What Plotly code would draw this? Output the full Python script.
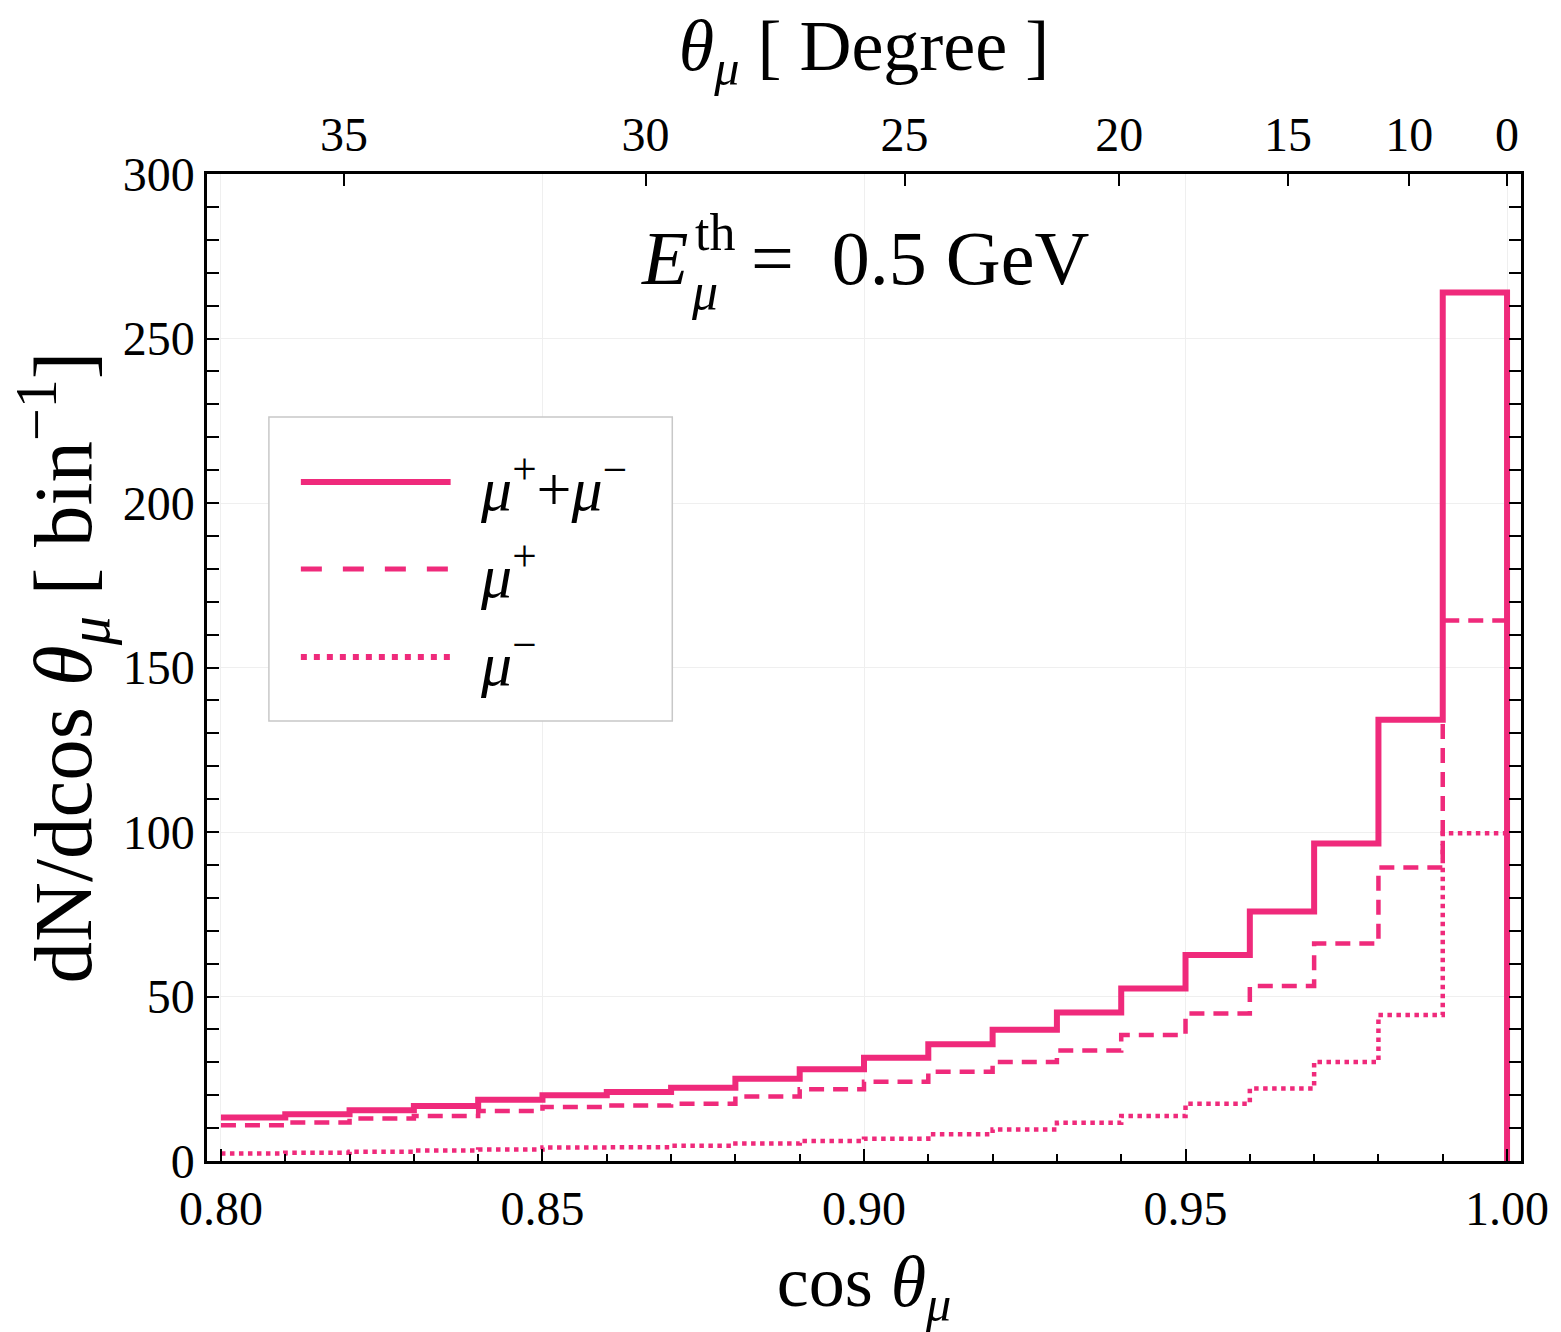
import numpy as np
import plotly.graph_objects as go

# cos(theta_mu) bin lower edges (bin width 0.01) and the upper end of the last bin
bin_lo = [0.80, 0.81, 0.82, 0.83, 0.84, 0.85, 0.86, 0.87, 0.88, 0.89,
          0.90, 0.91, 0.92, 0.93, 0.94, 0.95, 0.96, 0.97, 0.98, 0.99]
bin_hi_last = 1.00

# events per bin
n_total = [13.2, 14.2, 15.4, 16.7, 18.6, 20.0, 21.0, 22.3, 25.0, 27.9,
           31.4, 35.5, 39.9, 45.1, 52.4, 62.6, 75.8, 96.5, 134.1, 264.0]
n_plus = [10.9, 11.7, 12.9, 13.7, 15.2, 16.4, 16.9, 17.4, 19.6, 21.8,
          24.1, 27.1, 30.1, 33.6, 38.3, 44.8, 53.2, 66.1, 89.2, 164.3]
n_minus = [2.3, 2.5, 2.8, 3.2, 3.5, 4.1, 4.2, 4.6, 5.3, 6.1,
           6.8, 8.1, 9.6, 11.6, 13.7, 17.4, 22.0, 30.1, 44.4, 99.6]

# top axis: muon angle in degrees
deg_ticks = [35, 30, 25, 20, 15, 10, 0]

# bottom / left axis labels
x_major = [0.80, 0.85, 0.90, 0.95, 1.00]
y_major = [0, 50, 100, 150, 200, 250, 300]

PINK = "#EF2A7B"
FONT = "Liberation Serif"
X_RANGE = [0.79783, 1.00217]

DASH_PLOT = "15px,9px"
DOT_PLOT = "4.5px,4.5px"


def step_xy(values, drop_to_zero=False):
    xs = list(bin_lo) + [bin_hi_last]
    ys = list(values) + [values[-1]]
    if drop_to_zero:
        xs.append(bin_hi_last)
        ys.append(0)
    return xs, ys


fig = go.Figure()

xs, ys = step_xy(n_minus)
fig.add_trace(go.Scatter(x=xs, y=ys, mode="lines", line_shape="hv",
                         line=dict(color=PINK, width=4.5, dash=DOT_PLOT),
                         name="μ−", showlegend=False))
xs, ys = step_xy(n_plus)
fig.add_trace(go.Scatter(x=xs, y=ys, mode="lines", line_shape="hv",
                         line=dict(color=PINK, width=4.5, dash=DASH_PLOT),
                         name="μ+", showlegend=False))
xs, ys = step_xy(n_total, drop_to_zero=True)
fig.add_trace(go.Scatter(x=xs, y=ys, mode="lines", line_shape="hv",
                         line=dict(color=PINK, width=6),
                         name="μ+ + μ−", showlegend=False))

# carrier trace for the degree axis on top
tick_pos = [float(np.cos(np.radians(d))) for d in deg_ticks]
fig.add_trace(go.Scatter(x=tick_pos, y=[None] * len(tick_pos), xaxis="x2",
                         mode="lines", showlegend=False, hoverinfo="skip"))

# plot-area geometry in pixels
L, R, T, B = 207, 1523, 174, 1161
W, H = 1561, 1332


def px(x):
    return (x - L) / (R - L)


def py(y):
    return (B - y) / (B - T)


axis_common = dict(showline=True, linecolor="black", linewidth=2.5,
                   ticks="inside", ticklen=12, tickwidth=2, tickcolor="black",
                   zeroline=False, gridcolor="#efefef", gridwidth=1,
                   tickfont=dict(family=FONT, size=48, color="black"))

fig.update_layout(
    width=W, height=H,
    margin=dict(l=L, r=W - R, t=T, b=H - B),
    paper_bgcolor="white", plot_bgcolor="white",
    xaxis=dict(range=X_RANGE, tickvals=x_major,
               ticktext=[f"{v:.2f}" for v in x_major], mirror=True,
               ticklabelstandoff=4,
               minor=dict(tick0=0.80, dtick=0.01, ticks="inside", ticklen=7,
                          tickwidth=1.5, tickcolor="black", showgrid=False),
               title=dict(text="cos <i>θ</i><sub><i>μ</i></sub>", standoff=26,
                          font=dict(family=FONT, size=72, color="black")),
               **axis_common),
    yaxis=dict(range=[0, 300], tickvals=y_major, mirror="allticks",
               minor=dict(dtick=10, ticks="inside", ticklen=7, tickwidth=1.5,
                          tickcolor="black", showgrid=False),
               title=dict(text="dN/dcos <i>θ</i><sub><i>μ</i></sub> [ bin<sup>−1</sup>]",
                          standoff=4,
                          font=dict(family=FONT, size=83, color="black")),
               **axis_common),
    xaxis2=dict(overlaying="x", side="top", range=X_RANGE,
                tickvals=tick_pos, ticktext=[str(d) for d in deg_ticks],
                ticks="inside", ticklen=12, tickwidth=2, tickcolor="black",
                ticklabelstandoff=12,
                showline=False, showgrid=False, zeroline=False,
                tickfont=dict(family=FONT, size=48, color="black"),
                title=dict(text="<i>θ</i><sub><i>μ</i></sub> [ Degree ]", standoff=14,
                           font=dict(family=FONT, size=72, color="black"))),
)

# threshold label inside the frame: E, stacked th / mu, then the value
lbl_font = dict(family=FONT, size=76, color="black")
fig.add_annotation(xref="paper", yref="paper", x=px(640), y=py(258),
                   xanchor="left", yanchor="middle", showarrow=False,
                   text="<i>E</i>", font=lbl_font)
fig.add_annotation(xref="paper", yref="paper", x=px(694), y=py(232),
                   xanchor="left", yanchor="middle", showarrow=False,
                   text="th", font=dict(family=FONT, size=52, color="black"))
fig.add_annotation(xref="paper", yref="paper", x=px(690), y=py(291),
                   xanchor="left", yanchor="middle", showarrow=False,
                   text="<i>μ</i>", font=dict(family=FONT, size=52, color="black"))
fig.add_annotation(xref="paper", yref="paper", x=px(750), y=py(258),
                   xanchor="left", yanchor="middle", showarrow=False,
                   text="=  0.5 GeV", font=lbl_font)

# legend box
fig.add_shape(type="rect", xref="paper", yref="paper",
              x0=px(269), x1=px(673), y0=py(721), y1=py(417),
              line=dict(color="#c8c8c8", width=1.5), fillcolor="white", layer="above")
legend_rows = [
    (482, None, 6, "<i>μ</i><sup>+</sup>+<i>μ</i><sup>−</sup>"),
    (569, "21px,21px", 5, "<i>μ</i><sup>+</sup>"),
    (657, "6px,7px", 6, "<i>μ</i><sup>−</sup>"),
]
for ypix, dash, w, label in legend_rows:
    line = dict(color=PINK, width=w)
    if dash:
        line["dash"] = dash
    fig.add_shape(type="line", xref="paper", yref="paper",
                  x0=px(301), x1=px(451), y0=py(ypix), y1=py(ypix),
                  line=line, layer="above")
    fig.add_annotation(xref="paper", yref="paper", x=px(478), y=py(ypix + 2),
                       xanchor="left", yanchor="middle", showarrow=False,
                       text=label, font=dict(family=FONT, size=62, color="black"))

fig.write_html("out.html")
